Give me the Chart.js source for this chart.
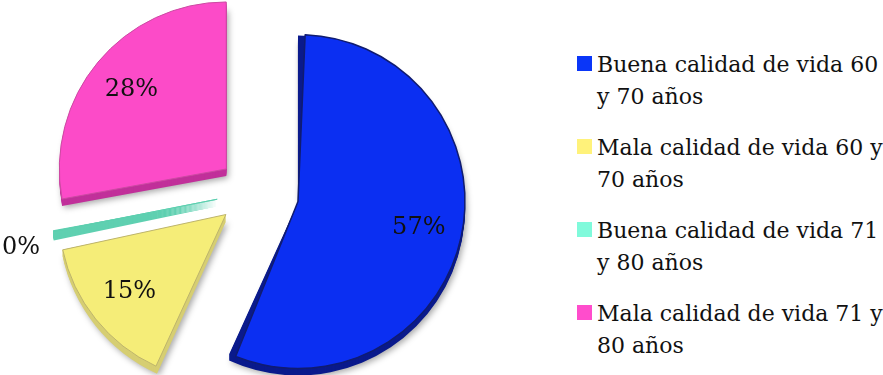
<!DOCTYPE html>
<html>
<head>
<meta charset="utf-8">
<script src="https://cdn.jsdelivr.net/npm/chart.js@4.4.1/dist/chart.umd.min.js"></script>
<style>
  html, body { margin: 0; padding: 0; background: #fff; }
  #wrap { position: relative; width: 883px; height: 375px; overflow: hidden; }
  #pie-box { position: absolute; left: 0; top: 0; width: 508px; height: 375px; }
  #legend {
    position: absolute; left: 577px; top: 49px; margin: 0; padding: 0; list-style: none;
    font-family: 'DejaVu Serif', serif; font-size: 22px; line-height: 32px; color: #111;
  }
  #legend li { position: relative; padding-left: 20px; margin-bottom: 19px; white-space: nowrap; }
  #legend .swatch { position: absolute; left: 0; top: 7px; width: 15px; height: 15px; }
</style>
</head>
<body>
<div id="wrap">
  <div id="pie-box"><canvas id="calidad-pie"></canvas></div>
  <ul id="legend"></ul>
</div>
<script>
// each legend entry is split over two lines
const categories = [
    ['Buena calidad de vida 60', 'y 70 años'],
    ['Mala calidad de vida 60 y', '70 años'],
    ['Buena calidad de vida 71', 'y 80 años'],
    ['Mala calidad de vida 71 y', '80 años']
];
const shares = [57, 15, 0.4, 28];

const sliceColors = ['#0b2ff2', '#f5ed78', '#63d7b8', '#fc4bc8'];
const sideColors = ['#0a1a8c', '#d6ce72', '#5fd0b1', '#c1309a'];
const edgeColors = ['#101c70', '#bdb46c', '#5ccfaf', '#cc4aa2'];
const legendColors = ['#0a36f8', '#fff27a', '#80fadb', '#ff4dcc'];
const slicePull = [180, 144, 150, 144];

const RADIUS = 167;
const DEPTH = 7;

// Chart.js grows an offset arc by offset/4 * (1 - sin(circumference)),
// so shrink each one by that much to keep every slice the same size
function radiusGrowth(arc) {
    const c = arc.circumference;
    return (arc.options.offset || 0) / 4 * (1 - Math.sin(Math.min(Math.PI, c || 0)));
}

function sliceCentre(arc) {
    const shift = (arc.options.offset || 0) / 4;
    const mid = (arc.startAngle + arc.endAngle) / 2;
    return {
        cx: arc.x + Math.cos(mid) * shift,
        cy: arc.y + Math.sin(mid) * shift,
        mid: mid,
        r: arc.outerRadius + radiusGrowth(arc),
        start: arc.startAngle,
        end: arc.endAngle
    };
}

const evenRadiusPlugin = {
    id: 'evenRadius',
    afterDatasetUpdate(chart, args) {
        args.meta.data.forEach(arc => {
            arc.outerRadius = RADIUS - radiusGrowth(arc);
        });
    }
};

// thickness under every slice, stacked a pixel at a time
const depthPlugin = {
    id: 'depth',
    beforeDatasetsDraw(chart) {
        const ctx = chart.ctx;
        chart.getDatasetMeta(0).data.forEach((arc, i) => {
            const s = sliceCentre(arc);
            const tiny = arc.circumference < 0.1;
            for (let d = DEPTH; d >= 1; d--) {
                ctx.save();
                if (d === DEPTH && !tiny) {
                    ctx.shadowColor = 'rgba(0,0,0,0.35)';
                    ctx.shadowBlur = 6;
                    ctx.shadowOffsetX = 2;
                    ctx.shadowOffsetY = 2;
                }
                ctx.fillStyle = sideColors[i];
                ctx.beginPath();
                ctx.moveTo(s.cx, s.cy + d);
                ctx.arc(s.cx, s.cy + d, s.r, s.start, s.end);
                ctx.closePath();
                ctx.fill();
                ctx.restore();
            }
        });
    }
};

// percentage labels, tiny slices get theirs outside the pie
const pctPlugin = {
    id: 'pctLabels',
    afterDatasetsDraw(chart) {
        const ctx = chart.ctx;
        const values = chart.data.datasets[0].data;
        const total = values.reduce((a, b) => a + b, 0);
        ctx.save();
        ctx.font = '24px "DejaVu Serif", serif';
        ctx.fillStyle = '#111';
        ctx.textAlign = 'center';
        ctx.textBaseline = 'middle';
        chart.getDatasetMeta(0).data.forEach((arc, i) => {
            const s = sliceCentre(arc);
            const pct = values[i] / total * 100;
            let k = 0.74, a = s.mid;
            if (pct < 2) {
                k = 1.21;
                a = s.mid - 0.05;
            }
            const lx = s.cx + Math.cos(a) * s.r * k;
            const ly = s.cy + Math.sin(a) * s.r * k;
            ctx.fillText(Math.round(pct) + '%', lx, ly);
        });
        ctx.restore();
    }
};

new Chart(document.getElementById('calidad-pie'), {
    type: 'pie',
    data: {
        labels: categories.map(c => c.join(' ')),
        datasets: [{
            data: shares,
            backgroundColor: sliceColors,
            borderColor: edgeColors,
            borderWidth: [1.5, 1, 1, 1],
            offset: slicePull,
            hoverOffset: 0
        }]
    },
    options: {
        responsive: true,
        maintainAspectRatio: false,
        animation: false,
        radius: RADIUS,
        layout: { padding: { top: 9 } },
        plugins: {
            legend: { display: false },
            tooltip: { enabled: false }
        }
    },
    plugins: [evenRadiusPlugin, depthPlugin, pctPlugin]
});

const legendList = document.getElementById('legend');
categories.forEach((lines, i) => {
    const li = document.createElement('li');
    const swatch = document.createElement('span');
    swatch.className = 'swatch';
    swatch.style.background = legendColors[i];
    li.appendChild(swatch);
    lines.forEach((line, j) => {
        if (j > 0) li.appendChild(document.createElement('br'));
        li.appendChild(document.createTextNode(line));
    });
    legendList.appendChild(li);
});
</script>
</body>
</html>
